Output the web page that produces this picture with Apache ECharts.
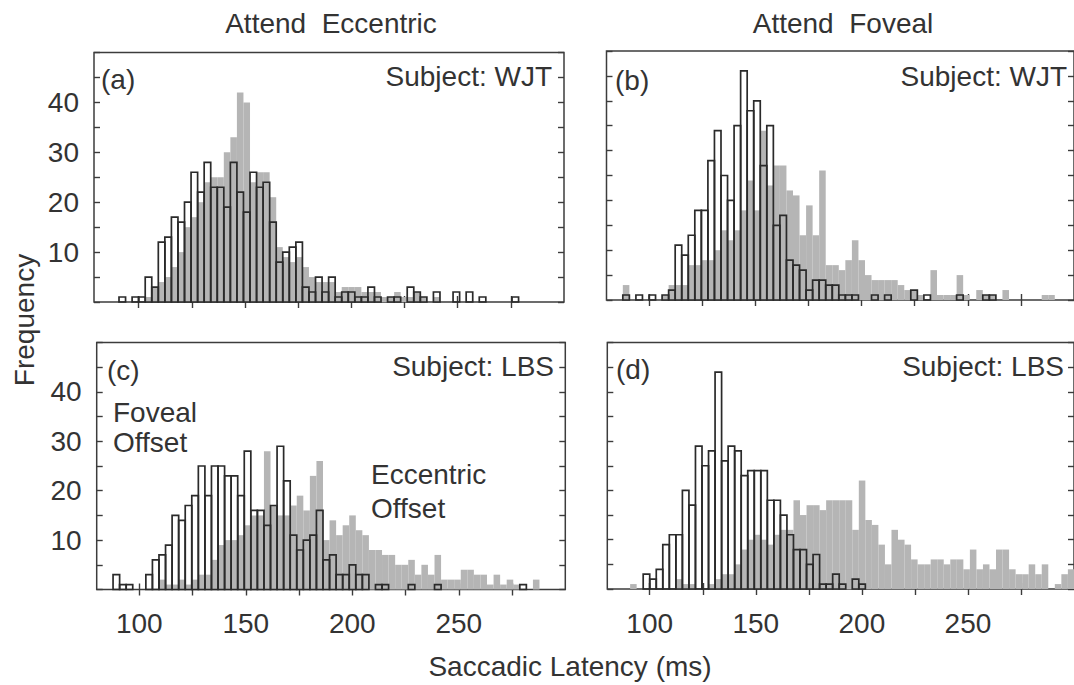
<!DOCTYPE html>
<html>
<head>
<meta charset="utf-8">
<script src="https://cdn.jsdelivr.net/npm/echarts@6/dist/echarts.min.js"></script>
<style>
html,body{margin:0;padding:0;background:#fff;}
#chart{width:1074px;height:685px;}
</style>
</head>
<body>
<div id="chart"></div>
<script>
// ---- data: histogram bins (bin centre, ms) and counts ----
const BIN_WIDTH = 3.08;
const binCenters = [
  79.98, 83.06, 86.14, 89.22, 92.30, 95.38, 98.46,
  101.54, 104.62, 107.70, 110.78, 113.86, 116.94, 120.02, 123.10, 126.18, 129.26,
  132.34, 135.42, 138.50, 141.58, 144.66, 147.74, 150.82, 153.90, 156.98, 160.06,
  163.14, 166.22, 169.30, 172.38, 175.46, 178.54, 181.62, 184.70, 187.78, 190.86,
  193.94, 197.02, 200.10, 203.18, 206.26, 209.34, 212.42, 215.50, 218.58, 221.66,
  224.74, 227.82, 230.90, 233.98, 237.06, 240.14, 243.22, 246.30, 249.38, 252.46,
  255.54, 258.62, 261.70, 264.78, 267.86, 270.94, 274.02, 277.10, 280.18, 283.26,
  286.34, 289.42, 292.50, 295.58, 298.66
];
// (a) Attend Eccentric, subject WJT
const fovealA = [0,0,0,0,1,0,1,
  1,5,3,12,13,17,16,20,26,22,
  28,23,23,19,28,22,18,26,23,24,
  16,8,10,11,12,3,2,5,2,5,
  1,2,2,1,1,3,1,0,1,1,
  0,3,2,1,0,2,0,0,2,0,
  2,0,1,0,0,0,0,1,0,0,
  0,0,0,0,0];
const eccentricA = [0,0,0,0,0,0,0,
  0,1,3,4,5,7,10,15,17,20,
  24,25,25,30,33,42,40,24,26,26,
  21,11,9,8,9,7,5,4,4,4,
  2,3,3,3,2,2,2,1,1,2,
  1,1,2,1,0,1,0,0,0,0,
  0,0,0,0,0,0,0,0,0,0,
  0,0,0,0,0];
// (b) Attend Foveal, subject WJT
const fovealB = [0,0,0,1,0,1,0,
  1,0,1,2,11,9,13,18,18,28,
  34,25,20,35,46,38,40,27,35,15,
  17,8,7,6,2,4,4,3,3,1,
  1,1,0,0,1,0,1,0,0,0,
  2,0,1,0,0,0,0,1,0,0,
  0,1,1,0,0,0,0,0,0,0,
  0,0,0,0,0];
const eccentricB = [0,0,0,3,0,0,0,
  0,0,1,3,3,3,7,7,8,8,
  10,14,12,14,18,24,18,34,23,27,
  27,22,21,13,19,13,26,7,7,6,
  8,12,8,5,4,4,4,4,3,2,
  2,1,0,6,1,1,1,5,1,0,
  2,1,1,0,2,0,0,0,0,0,
  1,1,0,0,0];
// (c) Attend Eccentric, subject LBS
const fovealC = [0,0,0,3,1,1,0,
  0,3,6,7,9,15,14,17,19,25,
  19,25,25,23,23,19,28,16,16,13,
  17,29,22,11,8,10,11,16,6,7,
  3,3,5,3,3,0,1,1,0,0,
  0,1,0,0,0,1,0,0,0,0,
  0,0,0,0,0,0,0,0,1,0,
  0,0,0,0,0];
const eccentricC = [0,0,0,0,0,0,0,
  0,0,0,2,1,1,2,1,2,3,
  3,6,9,10,10,11,13,15,15,28,
  17,15,15,17,19,16,23,26,10,14,
  11,13,15,12,11,8,8,7,7,5,
  5,6,3,5,3,7,2,2,2,4,
  4,3,3,1,3,1,2,1,0,0,
  2,0,0,0,0];
// (d) Attend Foveal, subject LBS
const fovealD = [0,0,0,0,0,0,3,
  2,4,9,11,11,20,17,29,25,28,
  44,26,29,28,23,24,24,24,18,18,
  15,11,8,8,5,7,1,1,3,1,
  0,2,1,0,0,0,0,0,0,0,
  0,0,0,0,0,0,0,0,0,0,
  0,0,0,0,0,0,0,0,0,0,
  0,0,0,0,0];
const eccentricD = [0,0,0,0,1,0,0,
  0,0,0,0,2,1,1,0,0,1,
  2,3,3,5,8,10,11,10,9,11,
  12,12,18,15,17,17,16,18,18,18,
  18,12,22,14,13,9,5,12,10,9,
  6,5,5,6,6,5,6,6,4,8,
  4,5,4,8,8,4,3,3,5,3,
  5,0,1,3,4];

const xTickValues = [100,125,150,175,200,225,250,275];
const xLabelValues = [100,150,200,250];
const yLabelValues = [10,20,30,40];

const panelLabels = ['(a)','(b)','(c)','(d)'];
const subjects = ['Subject: WJT','Subject: WJT','Subject: LBS','Subject: LBS'];
const columnTitles = ['Attend  Eccentric','Attend  Foveal'];
const yTitle = 'Frequency';
const xTitle = 'Saccadic Latency (ms)';

// ---- layout ----
const FONT = '"Liberation Sans", Arial, Helvetica, sans-serif';
const TXT = '#333333';
const FRAME = '#3c3c3c';
const GRAY = '#b5b5b5';

const grids = [
  {left:94,    top:52.5,  width:470,   height:249.5},
  {left:606.5, top:51,    width:470.5, height:249},
  {left:96.7,  top:342.5, width:468.6, height:247},
  {left:607.3, top:342.5, width:468.6, height:246.5}
];
const xMins = [79, 80, 80, 80];

const foveal = [fovealA, fovealB, fovealC, fovealD];
const eccentric = [eccentricA, eccentricB, eccentricC, eccentricD];

function barRenderer(open){
  return function(params, api){
    const x = api.value(0), y = api.value(1);
    if (!y) return null;
    const p0 = api.coord([x - BIN_WIDTH/2, y]);
    const p1 = api.coord([x + BIN_WIDTH/2, 0]);
    const cs = params.coordSys;
    const shape = echarts.graphic.clipRectByRect(
      {x:p0[0], y:p0[1], width:p1[0]-p0[0], height:p1[1]-p0[1]},
      {x:cs.x, y:cs.y, width:cs.width, height:cs.height});
    if (!shape) return null;
    if (open) {
      return {type:'rect', shape:shape, z2:10,
        style:{fill:'none', stroke:'#2a2a2a', lineWidth:1.7}};
    }
    return {type:'rect', shape:shape, z2:1, style:{fill:GRAY, stroke:null}};
  };
}

const xAxis = [], yAxis = [], series = [];
grids.forEach((g, i) => {
  const showXLabels = i >= 2;
  const showYLabels = (i % 2) === 0;
  ['bottom','top'].forEach(pos => {
    xAxis.push({
      type:'value', gridIndex:i, position:pos, min:xMins[i], max:300,
      axisLine:{show:false},
      axisTick:{show:true, inside:true, length:6, customValues:xTickValues,
        lineStyle:{color:FRAME, width:1.4}},
      axisLabel:{show: showXLabels && pos==='bottom', customValues:xLabelValues,
        margin:20, fontSize:28, fontFamily:FONT, color:TXT},
      splitLine:{show:false}
    });
  });
  ['left','right'].forEach(pos => {
    yAxis.push({
      type:'value', gridIndex:i, position:pos, min:0, max:50, interval:5,
      axisLine:{show:false},
      axisTick:{show:true, inside:true, length:6,
        lineStyle:{color:FRAME, width:1.4}},
      axisLabel:{show: showYLabels && pos==='left', margin:15, fontSize:28,
        fontFamily:FONT, color:TXT,
        formatter: v => yLabelValues.indexOf(v) >= 0 ? String(v) : ''},
      splitLine:{show:false}
    });
  });
  series.push({
    type:'custom', name:'Eccentric Offset', xAxisIndex:2*i, yAxisIndex:2*i, z:2,
    renderItem: barRenderer(false),
    data: binCenters.map((c, k) => [c, eccentric[i][k]])
  });
  series.push({
    type:'custom', name:'Foveal Offset', xAxisIndex:2*i, yAxisIndex:2*i, z:3,
    renderItem: barRenderer(true),
    data: binCenters.map((c, k) => [c, foveal[i][k]])
  });
});

function txt(text, x, y, align, vAlign, extra){
  return Object.assign({
    type:'text', x:x, y:y, z:100,
    style:{text:text, fill:TXT, font:'28px ' + FONT,
      textAlign:align, textVerticalAlign:vAlign}
  }, extra || {});
}

const graphic = [
  txt(columnTitles[0], 331, 23, 'center', 'middle'),
  txt(columnTitles[1], 843, 23, 'center', 'middle'),
  txt(panelLabels[0], 101, 79, 'left', 'middle'),
  txt(subjects[0], 552, 76, 'right', 'middle'),
  txt(panelLabels[1], 615, 80, 'left', 'middle'),
  txt(subjects[1], 1067, 76, 'right', 'middle'),
  txt(panelLabels[2], 107, 370, 'left', 'middle'),
  txt(subjects[2], 554, 366, 'right', 'middle'),
  txt('Foveal', 113, 412, 'left', 'middle'),
  txt('Offset', 113, 442, 'left', 'middle'),
  txt('Eccentric', 371, 474, 'left', 'middle'),
  txt('Offset', 371, 508, 'left', 'middle'),
  txt(panelLabels[3], 616, 369, 'left', 'middle'),
  txt(subjects[3], 1064, 366, 'right', 'middle'),
  txt(yTitle, 24, 320, 'center', 'middle', {rotation: Math.PI/2}),
  txt(xTitle, 570, 666, 'center', 'middle')
];

const chart = echarts.init(document.getElementById('chart'), null, {renderer:'svg'});
chart.setOption({
  animation:false,
  backgroundColor:'#ffffff',
  grid: grids.map(g => Object.assign({show:true, borderColor:FRAME, borderWidth:1.5,
    backgroundColor:'transparent', containLabel:false}, g)),
  xAxis: xAxis,
  yAxis: yAxis,
  series: series,
  graphic: graphic
});
</script>
</body>
</html>
